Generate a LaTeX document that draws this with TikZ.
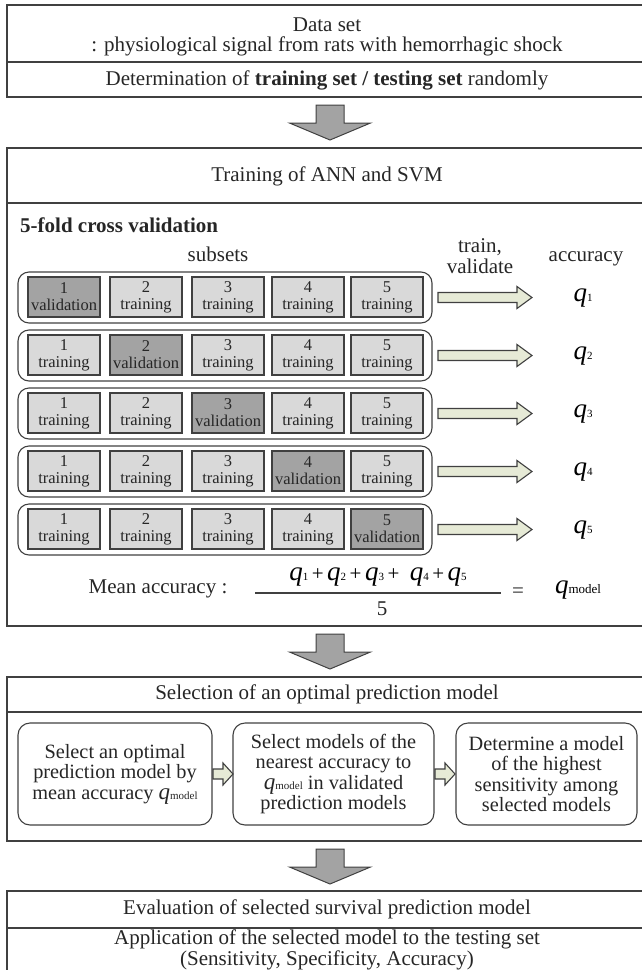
\documentclass[tikz,border=0pt]{standalone}
\usepackage{fontspec}
\setmainfont{Liberation Serif}
\usetikzlibrary{calc}
\definecolor{boxline}{gray}{0.25}
\definecolor{trfill}{gray}{0.85}
\definecolor{vafill}{gray}{0.64}
\definecolor{arrfill}{gray}{0.64}
\definecolor{cream}{RGB}{230,234,214}
\newcommand\mainsz{\fontsize{21}{21}\selectfont}
\newcommand\boxsz{\fontsize{20.3}{20.3}\selectfont}
\newcommand\subsz{\fontsize{16.5}{17}\selectfont}
\newcommand\qsz{\fontsize{27}{27}\selectfont}
\newcommand\qsub[1]{{\qsz\itshape q}{\fontsize{11}{11}\selectfont #1}}
\newcommand\qmod{{\qsz\itshape q}{\fontsize{13}{13}\selectfont model}}
\newcommand\qmodsm{\smash{{\fontsize{23}{20}\selectfont\itshape q}{\fontsize{11}{11}\selectfont model}}}
\newcommand\gArrow[1]{%
  \begin{scope}[shift={($(#1.south)+(1.5,8)$)}]
    \draw[garrow] (-14,0) -- (14,0) -- (14,18) -- (40.5,18) -- (0,35) -- (-40.5,18) -- (-14,18) -- cycle;
  \end{scope}}
\newcommand\hArrow[1]{%
  \begin{scope}[shift={($(#1.east)+(6,0)$)}]
    \draw[harrow] (0,-5) -- (79,-5) -- (79,-11) -- (94,0) -- (79,11) -- (79,5) -- (0,5) -- cycle;
  \end{scope}}
\newcommand\sArrow[1]{%
  \begin{scope}[shift={($(#1.east)+(1,0)$)}]
    \draw[harrow] (0,-5) -- (10,-5) -- (10,-11) -- (20,0) -- (10,11) -- (10,5) -- (0,5) -- cycle;
  \end{scope}}
\begin{document}
\begin{tikzpicture}[x=1pt,y=-1pt,
  bigbox/.style={draw=boxline, line width=1.3pt, inner sep=0pt, outer sep=0pt, anchor=north west},
  divline/.style={draw=boxline, line width=1.3pt},
  lbl/.style={font=\mainsz, inner sep=0pt, text=black!85},
  rowbox/.style={draw=boxline, line width=1.1pt, rounded corners=11pt, inner sep=0pt, outer sep=0pt, anchor=north west, minimum width=414pt, minimum height=51pt},
  subtr/.style={draw=boxline, line width=1.4pt, fill=trfill, minimum width=72pt, minimum height=40pt, inner sep=0pt, align=center, font=\subsz, text=black!85},
  subva/.style={subtr, fill=vafill},
  inbox/.style={draw=boxline, line width=1.1pt, rounded corners=12pt, inner sep=0pt, outer sep=0pt, minimum height=102pt, align=center, font=\boxsz, text=black!85},
  garrow/.style={draw=boxline, line width=1pt, fill=arrfill},
  harrow/.style={draw=boxline, line width=1.1pt, fill=cream},
  fracline/.style={draw=black!75, line width=1.3pt}]
\useasboundingbox (0,0) rectangle (641,970);
% ---------- box 1
\node[bigbox, minimum width=643pt, minimum height=92pt] (b1) at (7,5) {};
\draw[divline] (b1.west |- 0,62) -- (b1.east |- 0,62);
\node[lbl] (t1a) at (327,25) {Data set};
\node[lbl] (t1b) at (327,46) {: physiological signal from rats with hemorrhagic shock};
\node[lbl] (t1c) at (327,80) {Determination of \textbf{training set / testing set} randomly};
% ---------- box 2
\node[bigbox, minimum width=643pt, minimum height=478pt] (b2) at (7,148) {};
\draw[divline] (b2.west |- 0,203) -- (b2.east |- 0,203);
\node[lbl] (t2) at (327,176) {Training of ANN and SVM};
\node[lbl, anchor=west] (cv) at (20,225) {\textbf{5-fold cross validation}};
\node[lbl] (subs) at (218,254) {subsets};
\node[lbl, align=center] (tv) at (480,256) {train,\\validate};
\node[lbl] (acc) at (586,259) {accuracy};
\foreach \r in {1,...,5}{
  \pgfmathsetmacro\yt{272+58*(\r-1)}
  \node[rowbox] (r\r) at (18,\yt) {};
  \foreach \c/\xc in {1/64,2/146,3/228,4/308,5/387}{
    \ifnum\c=\r
      \node[subva] (s\r\c) at (\xc,\yt+25) {\c\\validation};
    \else
      \node[subtr] (s\r\c) at (\xc,\yt+25) {\c\\training};
    \fi
  }
  \node[inner sep=0pt] (q\r) at (583,\yt+26) {\qsub{\r}};
  \hArrow{r\r}
}
\node[lbl] (ma) at (158,589) {Mean accuracy :};
\node[inner sep=0pt] (num) at (378,577) {\qsub{1}{\mainsz\,+\,}\qsub{2}{\mainsz\,+\,}\qsub{3}{\mainsz\,+\ \ }\qsub{4}{\mainsz\,+\,}\qsub{5}};
\coordinate (fl) at (255,593);
\coordinate (fr) at (501,593);
\draw[fracline] (fl) -- (fr);
\node[lbl] (five) at (382,609) {5};
\node[lbl] (eq) at (518,593) {=};
\node[inner sep=0pt] (qm) at (578,590) {\qmod};
% ---------- box 3
\node[bigbox, minimum width=643pt, minimum height=164pt] (b3) at (7,677) {};
\draw[divline] (b3.west |- 0,712) -- (b3.east |- 0,712);
\node[lbl] (t3) at (327,694) {Selection of an optimal prediction model};
\node[inbox, minimum width=194pt] (m1) at (115,774) {Select an optimal\\prediction model by\\mean accuracy \qmodsm};
\node[inbox, minimum width=201pt] (m2) at (333.5,774) {Select models of the\\nearest accuracy to\\\qmodsm{} in validated\\prediction models};
\node[inbox, minimum width=181pt] (m3) at (546.5,774) {Determine a model\\of the highest\\sensitivity among\\selected models};
\sArrow{m1}
\sArrow{m2}
% ---------- box 4
\node[bigbox, minimum width=643pt, minimum height=120pt] (b4) at (7,891) {};
\draw[divline] (b4.west |- 0,928) -- (b4.east |- 0,928);
\node[lbl] (t4) at (327,909) {Evaluation of selected survival prediction model};
\node[lbl, align=center, font=\fontsize{21}{18}\selectfont] (t4b) at (327,950) {Application of the selected model to the testing set\\(Sensitivity, Specificity, Accuracy)};
% ---------- big arrows
\gArrow{b1}
\gArrow{b2}
\gArrow{b3}
\end{tikzpicture}
\end{document}
